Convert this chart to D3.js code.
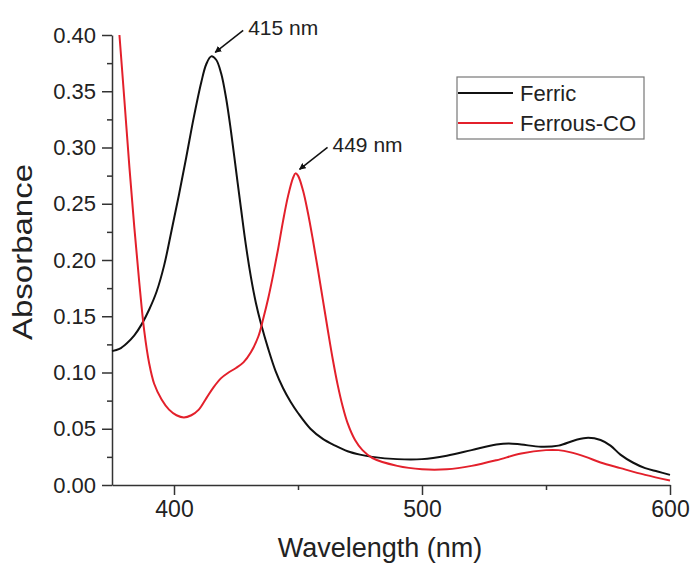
<!DOCTYPE html>
<meta charset="utf-8">
<style>
body { margin: 0; background: #fff; }
text { font-family: "Liberation Sans", Arial, sans-serif; fill: #222; }
.axis path, .axis line { fill: none; stroke: #333; stroke-width: 1.5px; }
.line { fill: none; stroke-width: 2px; }
</style>
<body>
<div id="chart"></div>
<script src="https://d3js.org/d3.v7.min.js"></script>
<script>
// wavelength (nm) / absorbance
var ferricNm  = [375, 378, 381, 384, 387, 390, 393, 396, 399, 402, 405, 408, 411, 413, 415, 417, 419, 421, 423, 425, 427, 429, 431, 433, 435, 438, 441, 444, 447, 450, 455, 460, 465, 470, 475, 480, 490, 500, 510, 520, 530, 535, 540, 548, 555, 562, 567, 572, 576, 580, 585, 590, 595, 600];
var ferricAbs = [0.119, 0.121, 0.126, 0.133, 0.143, 0.156, 0.172, 0.195, 0.226, 0.258, 0.292, 0.327, 0.358, 0.374, 0.381, 0.378, 0.366, 0.344, 0.314, 0.280, 0.246, 0.213, 0.185, 0.162, 0.144, 0.121, 0.101, 0.086, 0.074, 0.064, 0.050, 0.041, 0.035, 0.030, 0.027, 0.025, 0.023, 0.023, 0.026, 0.031, 0.036, 0.037, 0.036, 0.034, 0.035, 0.040, 0.042, 0.040, 0.035, 0.027, 0.020, 0.015, 0.012, 0.009];

var ferrousNm  = [378, 380, 382, 384, 386, 388, 390, 392, 395, 398, 401, 404, 407, 410, 413, 416, 419, 422, 425, 428, 431, 434, 436, 438, 440, 442, 444, 446, 448, 449, 450, 452, 454, 456, 458, 460, 462, 464, 466, 468, 470, 473, 476, 480, 490, 500, 510, 520, 530, 540, 550, 555, 560, 566, 572, 580, 590, 600];
var ferrousAbs = [0.400, 0.342, 0.283, 0.229, 0.180, 0.137, 0.108, 0.090, 0.076, 0.067, 0.062, 0.060, 0.062, 0.067, 0.077, 0.087, 0.095, 0.100, 0.104, 0.109, 0.118, 0.132, 0.148, 0.166, 0.187, 0.210, 0.235, 0.257, 0.273, 0.277, 0.275, 0.262, 0.242, 0.218, 0.192, 0.165, 0.138, 0.112, 0.089, 0.070, 0.055, 0.040, 0.031, 0.024, 0.017, 0.014, 0.014, 0.017, 0.022, 0.028, 0.031, 0.031, 0.029, 0.025, 0.020, 0.015, 0.009, 0.004];

var seriesNames = ["Ferric", "Ferrous-CO"];
var seriesColors = ["#111", "#e3202b"];
var xTicks = [400, 500, 600];
var yTicks = [0.00, 0.05, 0.10, 0.15, 0.20, 0.25, 0.30, 0.35, 0.40];
var peaks = [{nm: 415, label: "415 nm"}, {nm: 449, label: "449 nm"}];

var W = 694, H = 565;
var margin = {top: 35, right: 24, bottom: 80, left: 112};

var svg = d3.select("#chart").append("svg")
    .attr("width", W)
    .attr("height", H);

var x = d3.scaleLinear().domain([375, 600]).range([margin.left, W - margin.right]);
var y = d3.scaleLinear().domain([0, 0.40]).range([H - margin.bottom, margin.top]);

// minor ticks first, then major
svg.append("g").attr("class", "axis")
    .attr("transform", "translate(0," + y(0) + ")")
    .call(d3.axisBottom(x).tickValues([450, 550]).tickSize(5).tickFormat(""))
    .select(".domain").remove();
svg.append("g").attr("class", "axis")
    .attr("transform", "translate(" + x(375) + ",0)")
    .call(d3.axisLeft(y).tickValues(d3.range(0.025, 0.4, 0.05)).tickSize(5).tickFormat(""))
    .select(".domain").remove();

var xAxis = svg.append("g").attr("class", "axis")
    .attr("transform", "translate(0," + y(0) + ")")
    .call(d3.axisBottom(x).tickValues(xTicks).tickSize(10).tickSizeOuter(0).tickPadding(6));
xAxis.selectAll("text").style("font-size", "23px").attr("fill", "#222");

var yAxis = svg.append("g").attr("class", "axis")
    .attr("transform", "translate(" + x(375) + ",0)")
    .call(d3.axisLeft(y).tickValues(yTicks).tickSize(10).tickSizeOuter(0).tickPadding(6)
        .tickFormat(d3.format(".2f")));
yAxis.selectAll("text").style("font-size", "22px").attr("fill", "#222");

svg.append("text")
    .attr("x", 380)
    .attr("y", 557)
    .attr("text-anchor", "middle")
    .style("font-size", "27px")
    .text("Wavelength (nm)");

svg.append("text")
    .attr("transform", "translate(32,252) rotate(-90)")
    .attr("text-anchor", "middle")
    .attr("textLength", 176)
    .attr("lengthAdjust", "spacingAndGlyphs")
    .style("font-size", "28px")
    .text("Absorbance");

var line = d3.line()
    .x(function(d) { return x(d[0]); })
    .y(function(d) { return y(d[1]); })
    .curve(d3.curveCatmullRom.alpha(0.5));

var ferric = d3.zip(ferricNm, ferricAbs);
var ferrous = d3.zip(ferrousNm, ferrousAbs);

svg.append("path").datum(ferric).attr("class", "line")
    .attr("stroke", seriesColors[0]).attr("d", line);
svg.append("path").datum(ferrous).attr("class", "line")
    .attr("stroke", seriesColors[1]).attr("d", line);

// peak arrows
svg.append("defs").append("marker")
    .attr("id", "head")
    .attr("viewBox", "0 0 10 10")
    .attr("refX", 9).attr("refY", 5)
    .attr("markerWidth", 4.5).attr("markerHeight", 4.5)
    .attr("orient", "auto")
    .append("path").attr("d", "M0,0L10,5L0,10z").attr("fill", "#111");

var peakSeries = [ferric, ferrous];
peaks.forEach(function(p, i) {
    var d = peakSeries[i].find(function(q) { return q[0] === p.nm; });
    var px = x(d[0]), py = y(d[1]);
    svg.append("line")
        .attr("x1", px + 32).attr("y1", py - 26)
        .attr("x2", px + 4).attr("y2", py - 4)
        .attr("stroke", "#111").attr("stroke-width", 1.5)
        .attr("marker-end", "url(#head)");
    svg.append("text")
        .attr("x", px + 37).attr("y", py - 21)
        .style("font-size", "21px")
        .text(p.label);
});

// legend
var lg = svg.append("g").attr("transform", "translate(457,77)");
lg.append("rect").attr("width", 187).attr("height", 62)
    .attr("fill", "none").attr("stroke", "#777").attr("stroke-width", 1.2);
seriesNames.forEach(function(name, i) {
    var ly = 16 + i * 30;
    lg.append("line").attr("x1", 1).attr("x2", 56).attr("y1", ly).attr("y2", ly)
        .attr("stroke", seriesColors[i]).attr("stroke-width", 2);
    lg.append("text").attr("x", 63).attr("y", ly + 8)
        .style("font-size", "22px").text(name);
});
</script>
